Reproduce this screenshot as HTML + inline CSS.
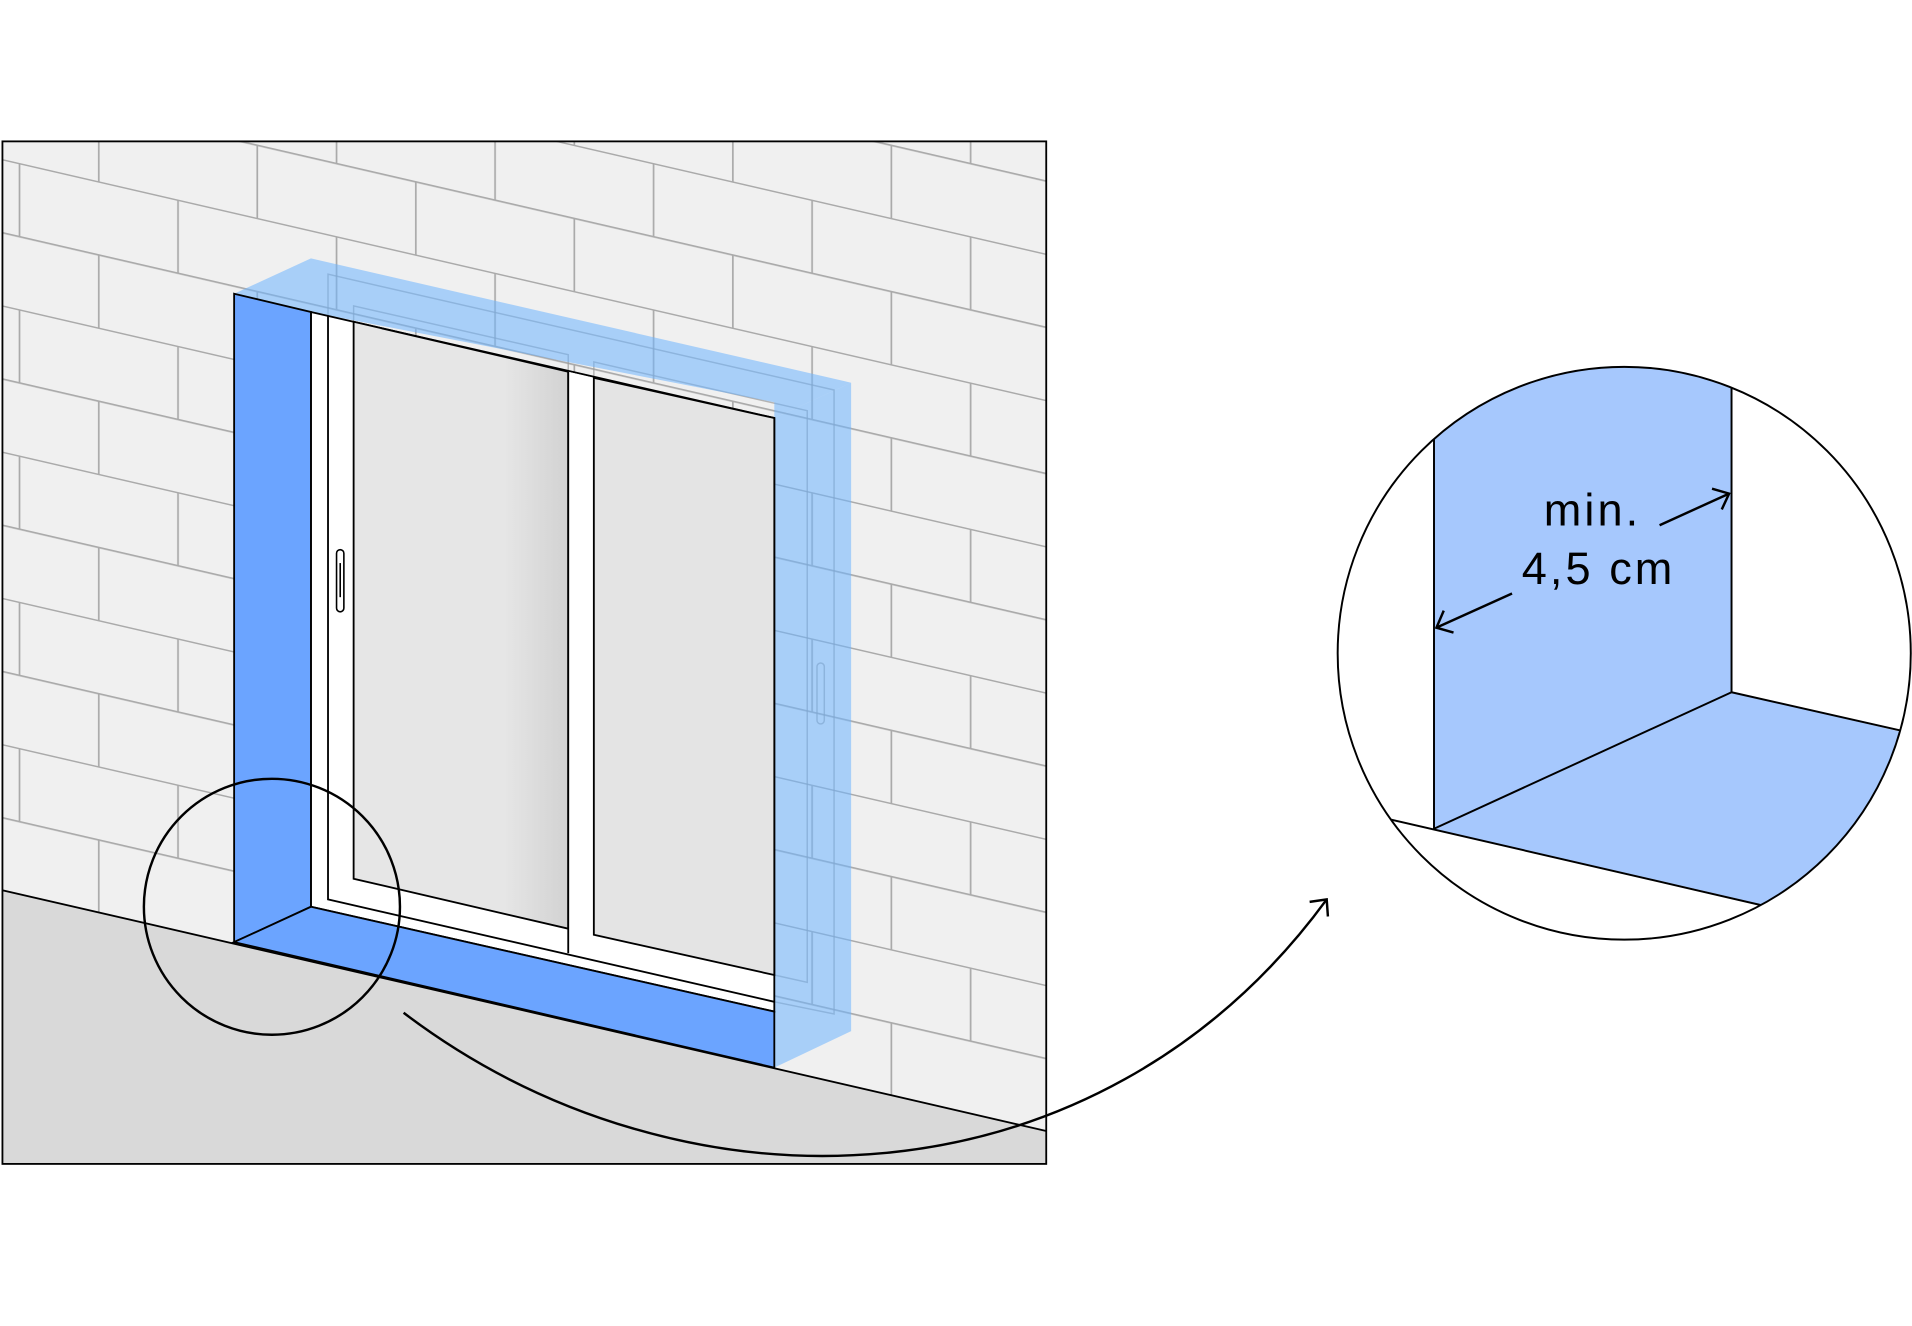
<!DOCTYPE html>
<html><head><meta charset="utf-8"><style>html,body{margin:0;padding:0;background:#fff}svg{display:block}</style></head>
<body>
<svg width="1912" height="1326" viewBox="0 0 1568 1088" preserveAspectRatio="none" xmlns="http://www.w3.org/2000/svg">
<defs>
<pattern id="br" patternUnits="userSpaceOnUse" x="0" y="10" width="260" height="120" patternTransform="skewY(13)">
<rect width="260" height="120" fill="#f0f0f0"/>
<path d="M0,0.5H260M0,60.5H260M16,0V60M146,0V60M81,60V120M211,60V120" stroke="#aaaaaa" stroke-width="1.4" fill="none"/>
</pattern>
<clipPath id="pc"><rect x="2" y="116" width="856" height="839"/></clipPath>
<clipPath id="cc"><circle cx="1332" cy="536" r="235"/></clipPath>
<linearGradient id="gl" x1="0" x2="1"><stop offset="0.7" stop-color="#e6e6e6"/><stop offset="1" stop-color="#d2d2d2"/></linearGradient>
</defs>
<g clip-path="url(#pc)">
<rect x="0" y="100" width="870" height="870" fill="url(#br)"/>
<polygon points="0,730 858,928 858,960 0,960" fill="#d9d9d9"/>
<line x1="0" y1="730" x2="858" y2="928" stroke="#000" stroke-width="1.5"/>
</g>
<rect x="2" y="116" width="856" height="839" fill="none" stroke="#000" stroke-width="1.5"/>
<g fill="none" stroke="#9a9a9a" stroke-width="1.2" opacity="0.7">
<polyline points="269,259 269,225 684,320 684,832 635,822"/>
<polyline points="290,264 290,251 466,291 466,305"/>
<polyline points="487,310 487,297 662,337 662,806 635,800"/>
<rect x="670" y="544" width="6" height="50" rx="3"/>
</g>
<polygon points="192,241 255,212 698,314 635,343 635,330 255,256" fill="rgba(110,180,255,0.55)"/>
<polygon points="635,343 698,314 698,846 635,876" fill="rgba(110,180,255,0.55)"/>
<polygon points="255,256 635,343 635,830 255,744" fill="#fff" stroke="#000" stroke-width="1.5"/>
<polyline points="269,259 269,738 635,822" fill="none" stroke="#000" stroke-width="1.5"/>
<polygon points="290,264 466,305 466,762 290,721" fill="url(#gl)" stroke="#000" stroke-width="1.5"/>
<polygon points="466,305 487,310 487,767 466,782" fill="#fff"/>
<line x1="466" y1="305" x2="466" y2="782" stroke="#000" stroke-width="1.5"/>
<polygon points="487,310 635,343 635,800 487,767" fill="#e4e4e4" stroke="#000" stroke-width="1.5"/>
<rect x="276" y="451" width="6" height="51" rx="3" fill="#fff" stroke="#000" stroke-width="1.3"/>
<line x1="279" y1="462" x2="279" y2="490" stroke="#000" stroke-width="1.3"/>
<polygon points="192,241 255,256 255,744 192,773" fill="#6ba4ff" stroke="#000" stroke-width="1.5"/>
<polygon points="192,773 255,744 635,830 635,876" fill="#6ba4ff" stroke="#000" stroke-width="1.5"/>
<circle cx="223" cy="744" r="105" fill="none" stroke="#000" stroke-width="2"/>
<path d="M331,831 C560,1005 900,995 1088,738" fill="none" stroke="#000" stroke-width="2"/>
<polyline points="1074,740 1088,738 1089,752" fill="none" stroke="#000" stroke-width="2"/>
<g clip-path="url(#cc)">
<polygon points="1176,200 1420,200 1420,568 1176,680" fill="#a6c8fd"/>
<polygon points="1176,680 1420,568 1600,610 1470,760" fill="#a6c8fd"/>
<polygon points="1100,672 1176,680 1445,742 1400,800 1100,800" fill="#fff"/>
<g stroke="#000" stroke-width="1.6" fill="none">
<line x1="1176" y1="300" x2="1176" y2="680"/>
<line x1="1420" y1="300" x2="1420" y2="568"/>
<line x1="1420" y1="568" x2="1570" y2="602"/>
<line x1="1130" y1="670" x2="1450" y2="744"/>
<line x1="1176" y1="680" x2="1420" y2="568"/>
</g>
</g>
<circle cx="1332" cy="536" r="235" fill="none" stroke="#000" stroke-width="1.6"/>
<g font-family="'Liberation Sans',sans-serif" font-size="37" fill="#000" text-anchor="middle" letter-spacing="2.5">
<text x="1306" y="431">min.</text>
<text x="1311" y="479">4,5 cm</text>
</g>
<g stroke="#000" stroke-width="2" fill="none">
<line x1="1361" y1="431" x2="1418" y2="405"/><polyline points="1404,401 1418,405 1412,418"/>
<line x1="1240" y1="487" x2="1178" y2="515"/><polyline points="1184,501 1178,515 1192,519"/>
</g>
</svg>
</body></html>
